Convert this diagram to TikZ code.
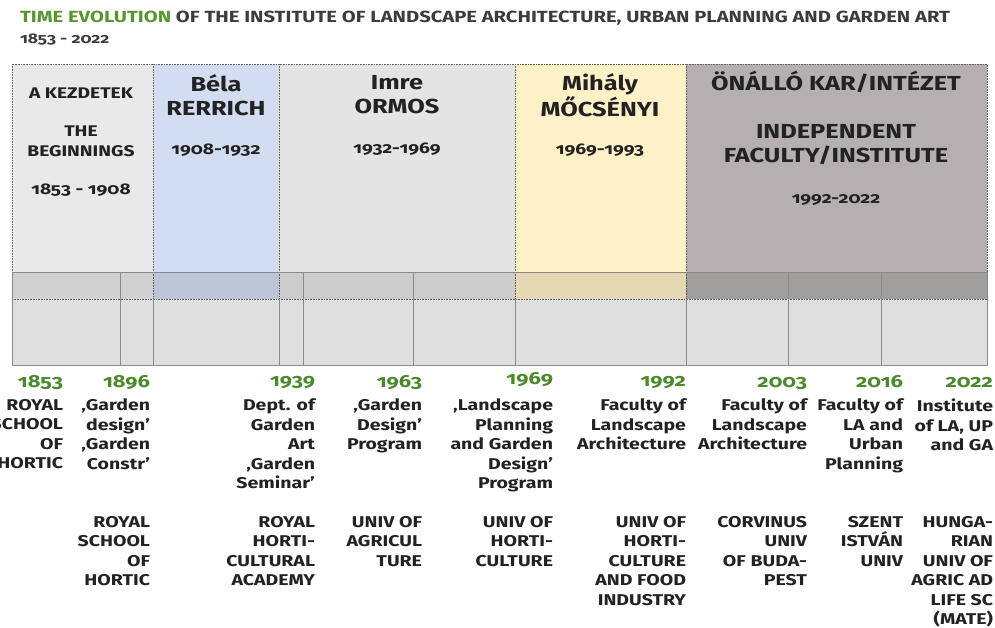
\documentclass[tikz,border=0pt]{standalone}
\usepackage{fontspec}
\setmainfont{Fira Sans}[Numbers=OldStyle, FakeStretch=1.25]
\usetikzlibrary{positioning}
\definecolor{leafgreen}{HTML}{5A9433}
\definecolor{yeargreen}{HTML}{4A8A2C}
\definecolor{inkgray}{HTML}{222222}
\definecolor{titlegray}{HTML}{3C3C3C}
\definecolor{startgray}{HTML}{E9E9E9}
\definecolor{rerrichblue}{HTML}{D2DDF1}
\definecolor{ormosgray}{HTML}{E4E4E4}
\definecolor{mocsyellow}{HTML}{FFF1C7}
\definecolor{instgray}{HTML}{B4B0B1}
\definecolor{basegray}{HTML}{DFDEDF}
\definecolor{rulegray}{HTML}{8A8A8A}
\tikzset{every node/.style={inner sep=0pt, outer sep=0pt, text=inkgray},
  periodbox/.style={draw=black!60, densely dotted, line width=0.6pt},
  headsmall/.style={font=\fontsize{15.4}{20}\selectfont\bfseries, align=center},
  headname/.style={font=\fontsize{20.3}{24}\selectfont\bfseries, align=center},
  yearlabel/.style={font=\fontsize{17.5}{20}\selectfont\bfseries, text=yeargreen, anchor=east},
  eventtext/.style={font=\fontsize{15.6}{19.5}\selectfont\bfseries, align=right, anchor=north east}}
% one column of the top band
\newcommand{\periodbox}[4]{%
  \fill[#4] (#2,64) rectangle (#3,299);
  \draw[periodbox] (#2,64) rectangle (#3,299);
  \coordinate (#1) at ({(#2+#3)/2},64);}
% one milestone under the time line
\newcommand{\milestone}[6]{%
  \node[yearlabel] (y#1) at (#2,#3) {#4};
  \node[eventtext] (e#1) at (#2,399) {#5};
  \node[eventtext] (u#1) at (#2,516) {#6};}

\begin{document}
\begin{tikzpicture}[x=1pt,y=-1pt]
\useasboundingbox (0,0) rectangle (995,628);
% title
\node[anchor=west, font=\fontsize{16.15}{18}\selectfont\bfseries, text=titlegray] (title) at (20,18)
  {\textcolor{leafgreen}{TIME EVOLUTION} OF THE INSTITUTE OF LANDSCAPE ARCHITECTURE, URBAN PLANNING AND GARDEN ART};
\node[anchor=west, font=\fontsize{14}{16}\selectfont\bfseries, text=titlegray] (span) at (20,40) {1853 - 2022};
% top band
\periodbox{start}{12}{153}{startgray}
\periodbox{rerrich}{153}{279}{rerrichblue}
\periodbox{ormos}{279}{515}{ormosgray}
\periodbox{mocs}{515}{686}{mocsyellow}
\periodbox{inst}{686}{987}{instgray}
\fill[black, opacity=0.1] (12,272) rectangle (987,299);
\draw[rulegray, line width=0.8pt] (12,272) -- (987,272);
\fill[basegray] (12,299) rectangle (987,365);
\draw[black!60, densely dotted, line width=0.6pt] (12,299) -- (987,299);
\draw[rulegray, line width=1pt] (12,272) -- (12,365) -- (987,365) -- (987,272);
\foreach \x in {120,303,413,788,881} \draw[rulegray, line width=0.8pt] (\x,272) -- (\x,365);
\foreach \x in {153,279,515,686} \draw[rulegray, line width=0.8pt] (\x,299) -- (\x,365);
% period headings
\node[headsmall] (h1) at (81,93) {A KEZDETEK};
\node[headsmall] (h2) at (81,141) {THE\\BEGINNINGS};
\node[headsmall] (h3) at (81,190) {1853 - 1908};
\node[headname] (r1) at (216,95) {Béla\\RERRICH};
\node[headsmall] (r2) at (216,150) {1908-1932};
\node[headname] (o1) at (397,95) {Imre\\ORMOS};
\node[headsmall] (o2) at (397,149) {1932-1969};
\node[headname] (m1) at (600,95) {Mihály\\MŐCSÉNYI};
\node[headsmall] (m2) at (600,150) {1969-1993};
\node[headname] (i1) at (836,82) {ÖNÁLLÓ KAR/INTÉZET};
\node[headname] (i2) at (836,145) {INDEPENDENT\\FACULTY/INSTITUTE};
\node[headsmall] (i3) at (836,200) {1992-2022};
% milestones
\milestone{a}{63}{383}{1853}{ROYAL\\SCHOOL\\OF\\HORTIC}{}
\milestone{b}{150}{383}{1896}{‚Garden\\design’\\‚Garden\\Constr’}{ROYAL\\SCHOOL\\OF\\HORTIC}
\milestone{c}{315}{383}{1939}{Dept. of\\Garden\\Art\\‚Garden\\Seminar’}{ROYAL\\HORTI-\\CULTURAL\\ACADEMY}
\milestone{d}{422}{383}{1963}{‚Garden\\Design’\\Program}{UNIV OF\\AGRICUL\\TURE}
\milestone{e}{553}{380}{1969}{‚Landscape\\Planning\\and Garden\\Design’\\Program}{UNIV OF\\HORTI-\\CULTURE}
\milestone{f}{686}{383}{1992}{Faculty of\\Landscape\\Architecture}{UNIV OF\\HORTI-\\CULTURE\\AND FOOD\\INDUSTRY}
\milestone{g}{807}{383}{2003}{Faculty of\\Landscape\\Architecture}{CORVINUS\\UNIV\\OF BUDA-\\PEST}
\milestone{h}{903}{382}{2016}{Faculty of\\LA and\\Urban\\Planning}{SZENT\\ISTVÁN\\UNIV}
\milestone{k}{993}{383}{2022}{Institute\\of LA, UP\\and GA}{HUNGA-\\RIAN\\UNIV OF\\AGRIC AD\\LIFE SC\\(MATE)}
\end{tikzpicture}
\end{document}
